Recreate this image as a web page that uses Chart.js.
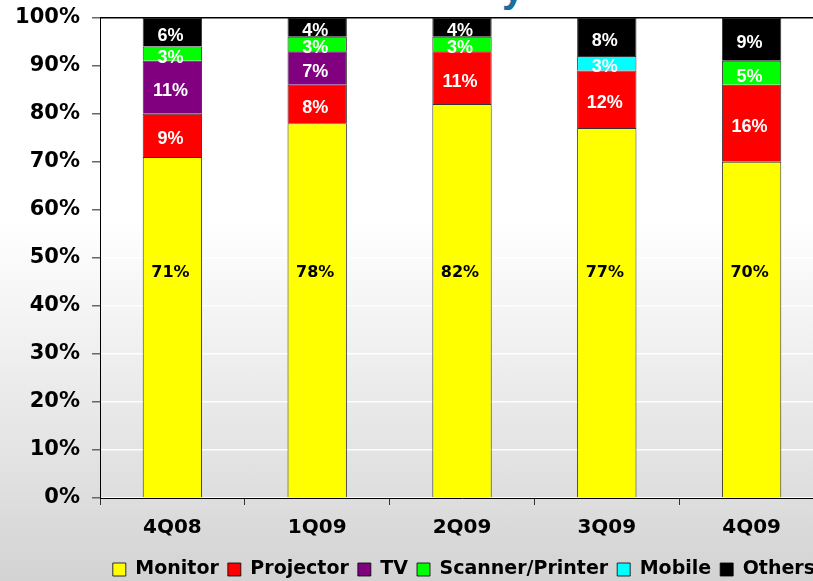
<!DOCTYPE html>
<html>
<head>
<meta charset="utf-8">
<script src="https://cdn.jsdelivr.net/npm/chart.js@4.4.1/dist/chart.umd.min.js"></script>
<style>
  html, body { margin: 0; padding: 0; width: 813px; height: 581px; overflow: hidden; }
  body {
    position: relative;
    background: linear-gradient(to bottom, #ffffff 0%, #ffffff 38%, #f1f1f1 58%, #e2e2e2 80%, #d3d3d3 100%);
  }
  #chart { position: absolute; left: 0; top: -7px; }
  .title-tail {
    position: absolute; left: 502px; top: -34px;
    font: bold 40px "Liberation Sans", Arial, sans-serif; color: #1b6d9e;
  }
</style>
</head>
<body>
<div class="title-tail">y</div>
<canvas id="chart" width="826" height="596"></canvas>
<script>
// quarters
const categories = ['4Q08', '1Q09', '2Q09', '3Q09', '4Q09'];

// share of each application, % per quarter
const monitor   = [71, 78, 82, 77, 70];
const projector = [9, 8, 11, 12, 16];
const tv        = [11, 7, 0, 0, 0];
const scanner   = [3, 3, 3, 0, 5];
const mobile    = [0, 0, 0, 3, 0];
const others    = [6, 4, 4, 8, 9];

const yTicks = [0, 10, 20, 30, 40, 50, 60, 70, 80, 90, 100];

const series = [
    { label: 'Monitor', data: monitor, color: '#ffff00', text: '#000' },
    { label: 'Projector', data: projector, color: '#ff0000', text: '#fff' },
    { label: 'TV', data: tv, color: '#800080', text: '#fff' },
    { label: 'Scanner/Printer', data: scanner, color: '#00ff00', text: '#fff' },
    { label: 'Mobile', data: mobile, color: '#00ffff', text: '#fff' },
    { label: 'Others', data: others, color: '#000000', text: '#fff' }
];

// value labels drawn on the segments
const segmentLabels = {
    id: 'segmentLabels',
    afterDatasetsDraw(chart) {
        const ctx = chart.ctx;
        const yScale = chart.scales.y;
        ctx.save();
        ctx.textAlign = 'center';
        ctx.textBaseline = 'middle';
        chart.data.datasets.forEach((ds, i) => {
            const meta = chart.getDatasetMeta(i);
            meta.data.forEach((bar, j) => {
                const v = ds.data[j];
                if (!v) return;
                const p = bar.getProps(['x', 'y', 'base'], true);
                let y = (p.y + p.base) / 2 + 4;
                if (i === 0) {
                    y = yScale.getPixelForValue(46.8);
                    ctx.font = 'bold 16px "DejaVu Sans", Verdana, sans-serif';
                } else {
                    ctx.font = 'bold 18px "Liberation Sans", Arial, sans-serif';
                }
                ctx.fillStyle = ds.textColor;
                ctx.fillText(v + '%', p.x - 2, y);
            });
        });
        ctx.restore();
    }
};

new Chart(document.getElementById('chart'), {
    type: 'bar',
    data: {
        labels: categories,
        datasets: series.map(s => ({
            label: s.label,
            data: s.data,
            backgroundColor: s.color,
            borderColor: 'rgba(0,0,0,0.8)',
            borderWidth: 1,
            textColor: s.text,
            categoryPercentage: 1,
            barPercentage: 0.41
        }))
    },
    options: {
        responsive: false,
        animation: false,
        devicePixelRatio: 1,
        layout: { padding: { top: 11, right: 2, bottom: 0, left: 0 } },
        plugins: {
            tooltip: { enabled: false },
            legend: {
                position: 'bottom',
                align: 'end',
                labels: {
                    color: '#000',
                    font: { family: '"DejaVu Sans", Verdana, sans-serif', size: 19, weight: 'bold' },
                    boxWidth: 13,
                    boxHeight: 13,
                    padding: 9
                }
            }
        },
        scales: {
            x: {
                stacked: true,
                border: { color: '#000', width: 1 },
                grid: {
                    offset: true,
                    drawOnChartArea: false,
                    tickLength: 7,
                    tickColor: '#333'
                },
                ticks: {
                    color: '#000',
                    padding: 11,
                    font: { family: '"DejaVu Sans", Verdana, sans-serif', size: 20, weight: 'bold' }
                },
                afterFit(scale) { scale.height = 53; }
            },
            y: {
                stacked: true,
                min: 0,
                max: 100,
                border: { color: '#000', width: 1 },
                grid: {
                    color: ctx => ctx.tick && ctx.tick.value === 100 ? '#000' : 'rgba(255,255,255,0.9)',
                    lineWidth: 1.5,
                    tickLength: 8,
                    tickColor: '#666'
                },
                afterBuildTicks(scale) {
                    scale.ticks = yTicks.map(v => ({ value: v }));
                },
                ticks: {
                    color: '#000',
                    padding: 12,
                    font: { family: '"DejaVu Sans", Verdana, sans-serif', size: 21, weight: 'bold' },
                    callback: v => v + '%'
                },
                afterFit(scale) { scale.width = 100; }
            }
        }
    },
    plugins: [segmentLabels]
});
</script>
</body>
</html>
